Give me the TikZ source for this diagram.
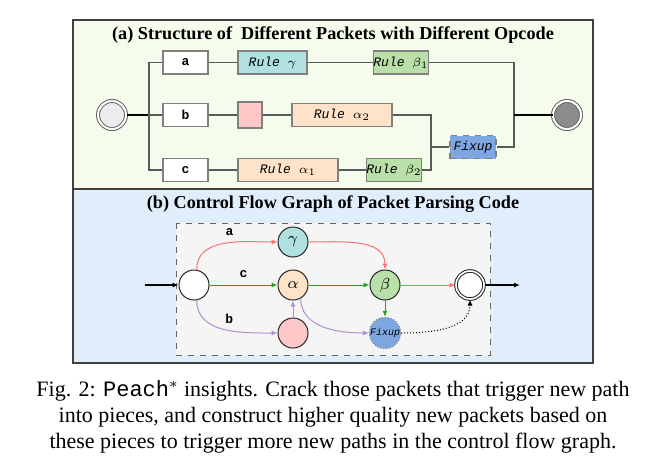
\documentclass[tikz,border=0pt]{standalone}
\usepackage{fontspec}
\setmainfont{Liberation Serif}
\setmonofont{Liberation Mono}
\usepackage{xcolor}
\usetikzlibrary{arrows.meta, calc, positioning}

\definecolor{bgA}{HTML}{F5FCEC}
\definecolor{bgB}{HTML}{E0EEFC}
\definecolor{teal}{HTML}{B0E0E0}
\definecolor{pinkc}{HTML}{FFC8C8}
\definecolor{peach}{HTML}{FFE3C8}
\definecolor{greenc}{HTML}{B8E0A8}
\definecolor{bluec}{HTML}{7EA6E0}
\definecolor{edgered}{HTML}{FF7070}
\definecolor{edgegreen}{HTML}{22A022}
\definecolor{edgepurple}{HTML}{B090D0}

\tikzset{
    panel/.style={draw=black!75, line width=1pt},
    title/.style={font=\fontsize{9.1}{11}\selectfont\bfseries},
    pktbox/.style={draw=black!50, line width=0.6pt, fill=white, minimum width=22.5pt, minimum height=11.5pt, inner sep=0pt, font=\fontsize{6.5}{7}\selectfont\ttfamily\bfseries},
    rulebox/.style={draw=black!50, line width=0.6pt, minimum height=11.5pt, inner sep=0pt, font=\fontsize{6.5}{7}\selectfont\ttfamily\itshape},
    wire/.style={draw=black!65, line width=0.7pt},
    cfg/.style={circle, draw=black!85, line width=0.5pt, minimum size=15pt, inner sep=0pt, font=\fontsize{8}{9}\selectfont},
    flow/.style={line width=0.5pt, -{Latex[length=3pt, width=2.5pt]}},
    lbl/.style={font=\fontsize{6.5}{7}\selectfont\ttfamily\bfseries}
}

\begin{document}
\begin{tikzpicture}[x=0.5pt, y=-0.5pt]
    \useasboundingbox (0, 0) rectangle (663, 461);

    % panel (a)
    \draw[panel, fill=bgA] (73, 20) rectangle (593, 189);
    \node[title] (titA) at (333, 35) {(a) Structure of~ Different Packets with Different Opcode};

    \node[circle, draw=black!60, line width=0.5pt, double=white, double distance=1pt, fill=black!7, minimum size=14pt] (sA) at (112, 115) {};
    \node[circle, draw=black!60, line width=0.5pt, double=white, double distance=1pt, fill=black!45, minimum size=14pt] (eA) at (567, 115) {};

    \node[pktbox] (pa) at (185.5, 62.5) {a};
    \node[pktbox] (pb) at (185.5, 115) {b};
    \node[pktbox] (pc) at (185.5, 170) {c};

    \node[rulebox, fill=teal, minimum width=34.5pt] (rg) at (272.5, 62.5) {Rule $\gamma$};
    \node[rulebox, fill=greenc, minimum width=27pt] (rb1) at (401, 62.5) {Rule $\beta_1$};
    \node[rulebox, fill=pinkc, minimum width=12pt, minimum height=13pt] (rp) at (250, 115) {};
    \node[rulebox, fill=peach, minimum width=50pt] (ra2) at (342, 115) {Rule $\alpha_2$};
    \node[rulebox, fill=peach, minimum width=50pt] (ra1) at (288, 170) {Rule $\alpha_1$};
    \node[rulebox, fill=greenc, minimum width=27pt] (rb2) at (394, 170) {Rule $\beta_2$};
    \node[rulebox, fill=bluec, dashed, minimum width=23pt] (fx) at (473, 147) {Fixup};

    \coordinate (brA) at (149, 115);
    \coordinate (jL) at (431, 147);
    \coordinate (jR) at (514, 115);

    \draw[line width=1.1pt] (sA) -- (brA);
    \draw[wire] (pa.west) -| (brA) |- (pc.west);
    \draw[wire] (brA) -- (pb.west);
    \draw[wire] (pa) -- (rg) -- (rb1);
    \draw[wire] (pb) -- (rp) -- (ra2);
    \draw[wire] (pc) -- (ra1) -- (rb2);
    \draw[wire] (ra2.east) -| (jL) |- (rb2.east);
    \draw[wire] (jL) -- (fx.west);
    \draw[wire] (rb1.east) -| (jR) |- (fx.east);
    \draw[line width=1.1pt] (jR) -- (eA);

    % panel (b)
    \draw[panel, fill=bgB] (73, 189) rectangle (593, 363);
    \node[title] (titB) at (333, 204) {(b) Control Flow Graph of Packet Parsing Code};
    \draw[draw=black!60, dashed, line width=0.5pt, fill=black!4] (176, 223) rectangle (490, 355);

    \node[cfg, fill=white] (s) at (194, 285) {};
    \node[cfg, fill=teal] (g) at (293, 242) {$\gamma$};
    \node[cfg, fill=peach] (al) at (293, 285) {$\alpha$};
    \node[cfg, fill=pinkc] (pk) at (293, 333) {};
    \node[cfg, fill=greenc] (be) at (385, 285) {$\beta$};
    \node[cfg, fill=bluec, draw=black!50, densely dotted, font=\fontsize{5}{6}\selectfont\ttfamily\itshape] (fxb) at (385, 333) {Fixup};
    \node[cfg, fill=white, double=white, double distance=0.8pt, minimum size=14pt] (e) at (470, 285) {};

    \coordinate (inB) at (145, 285);
    \coordinate (outB) at (520, 285);

    \draw[flow, line width=0.8pt] (inB) -- (s);
    \draw[flow, line width=0.8pt] (e) -- (outB);
    \draw[flow, edgered] (s.80) to[out=90, in=180] node[pos=0.55, above, black, lbl] {a} (g);
    \draw[flow, edgegreen] (s) -- node[pos=0.5, above, black, lbl] {c} (al);
    \draw[flow, edgepurple] (s.-80) to[out=-90, in=180] node[pos=0.55, above, black, lbl] {b} (pk);
    \draw[flow, edgered] (g) to[out=0, in=90] (be);
    \draw[flow, edgegreen] (al) -- (be);
    \draw[flow, edgepurple] (pk) -- (al);
    \draw[flow, edgepurple] (al.-60) to[out=-90, in=180] (fxb);
    \draw[flow, edgegreen] (be) -- (fxb);
    \draw[flow, edgered] (be) -- (e);
    \draw[flow, densely dotted, black] (fxb) to[out=0, in=-90] (e);

    % caption
    \node[align=center, font=\fontsize{11}{13}\selectfont] (cap) at (333, 417)
        {Fig. 2: \texttt{Peach}$^{*}$ insights. Crack those packets that trigger new path\\
         into pieces, and construct higher quality new packets based on\\
         these pieces to trigger more new paths in the control flow graph.};
\end{tikzpicture}
\end{document}
